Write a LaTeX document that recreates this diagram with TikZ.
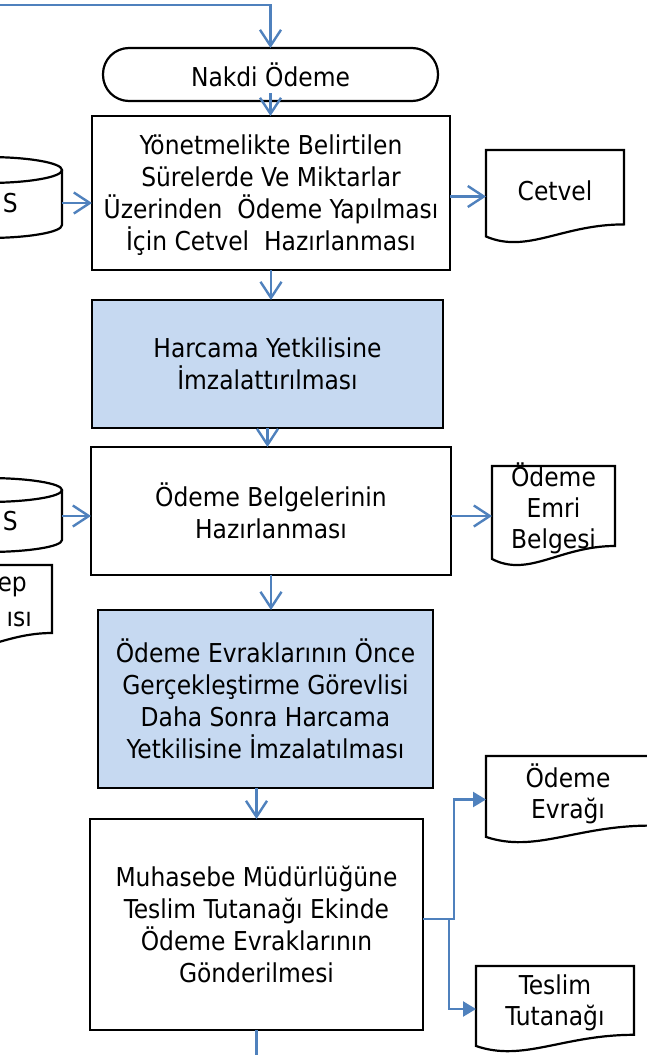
\documentclass[tikz,border=0pt]{standalone}
\usepackage{fontspec}
\setmainfont{DejaVu Sans Condensed}
\usetikzlibrary{arrows.meta,calc}
\definecolor{conn}{HTML}{4F81BD}
\definecolor{procfill}{HTML}{C6D9F1}
\tikzset{
  shapeline/.style={draw=black, line width=2.2pt, line join=miter},
  basebox/.style={shapeline, inner sep=0pt, outer sep=0pt, align=center, font=\fontsize{26}{32}\selectfont},
  proc/.style={basebox, text depth=0pt},
  procblue/.style={proc, fill=procfill},
  term/.style={basebox, rounded corners=26pt},
  docbox/.style={inner sep=0pt, outer sep=0pt},
  doctext/.style={align=center, yshift=6pt, font=\fontsize{26}{31}\selectfont, inner sep=0pt},
  plain/.style={align=center, font=\fontsize{26}{32}\selectfont, inner sep=0pt},
  conline/.style={draw=conn, line width=2.4pt},
  arr/.style={conline, -{Straight Barb[length=16pt, width=21pt, line width=2.4pt]}},
  tri/.style={conline, -{Triangle[length=13pt, width=15pt]}}
}
\newcommand\docpath[1]{%
  \draw[shapeline] let \p1=(#1.north west), \p2=(#1.south east),
    \n1={\x2-\x1}, \n2={\y1-\y2} in
    (\x1,\y1) -- (\x2,\y1) -- (\x2,{\y2+0.2*\n2})
    .. controls ({\x1+0.55*\n1},{\y2+0.2*\n2}) and ({\x1+0.3*\n1},{\y2-0.12*\n2}) ..
    (\x1,{\y2+0.07*\n2}) -- cycle;}
\begin{document}
\begin{tikzpicture}[x=1pt, y=-1pt]
\useasboundingbox (0,0) rectangle (647,1055);
\clip (0,0) rectangle (647,1055);
\fill[white] (0,0) rectangle (647,1055);

% main flow
\node[term, minimum width=335pt, minimum height=53pt] (nakdi) at (270.5,74.5) {Nakdi Ödeme};
\node[proc, minimum width=358pt, minimum height=154pt] (b1) at (271,193)
  {Yönetmelikte Belirtilen\\Sürelerde Ve Miktarlar\\Üzerinden\ \ Ödeme Yapılması\\İçin Cetvel\ \ Hazırlanması};
\node[procblue, minimum width=351pt, minimum height=128pt] (b2) at (267.5,364)
  {Harcama Yetkilisine\\İmzalattırılması};
\node[proc, minimum width=360pt, minimum height=128pt] (b3) at (271,511)
  {Ödeme Belgelerinin\\Hazırlanması};
\node[procblue, minimum width=335pt, minimum height=178pt] (b4) at (265.5,699)
  {Ödeme Evraklarının Önce\\Gerçekleştirme Görevlisi\\Daha Sonra Harcama\\Yetkilisine İmzalatılması};
\node[proc, minimum width=333pt, minimum height=211pt] (b5) at (256.5,924.5)
  {Muhasebe Müdürlüğüne\\Teslim Tutanağı Ekinde\\Ödeme Evraklarının\\Gönderilmesi};

% documents on the right
\node[docbox, minimum width=138pt, minimum height=93pt, label={[doctext]center:Cetvel}] (cetvel) at (555,196.5) {};
\node[docbox, minimum width=123pt, minimum height=100pt, label={[doctext, yshift=1.5pt]center:Ödeme\\Emri\\Belgesi}] (emri) at (553.5,516) {};
\node[docbox, minimum width=164pt, minimum height=87pt, label={[doctext]center:Ödeme\\Evrağı}] (evragi) at (568,799.5) {};
\node[docbox, minimum width=158pt, minimum height=86pt, label={[doctext]center:Teslim\\Tutanağı}] (teslim) at (555,1009) {};
\docpath{cetvel}
\docpath{emri}
\docpath{evragi}
\docpath{teslim}

% cut-off shapes on the left
\draw[shapeline] (-13,170) ellipse [x radius=75pt, y radius=13pt];
\draw[shapeline] (62,170) -- (62,225) arc[start angle=0, end angle=-180, x radius=75pt, y radius=13pt];
\node[plain, anchor=east] (s1) at (18,203) {S};
\draw[shapeline] (-13,490) ellipse [x radius=75pt, y radius=12pt];
\draw[shapeline] (62,490) -- (62,540) arc[start angle=0, end angle=-180, x radius=75pt, y radius=12pt];
\node[plain, anchor=east] (s2) at (18,521) {S};
\node[docbox, minimum width=112pt, minimum height=85pt] (ldoc) at (-4,607.5) {};
\docpath{ldoc}
\node[plain, anchor=east] (ep) at (27,587) {ep};
\node[plain, anchor=east] (isi) at (32,619) {ısı};
\coordinate (db1) at (62,203);
\coordinate (db2) at (62,516);

% connectors
\coordinate (start) at (0,5);
\draw[arr] (start) -| (nakdi.north);
\draw[arr] ($(nakdi.south)+(0,-8)$) -- (nakdi.south |- b1.north);
\draw[arr] (b1.south) -- (b1.south |- b2.north);
\draw[arr] (b2.south) -- (b2.south |- b3.north);
\draw[arr] (b3.south) -- (b3.south |- b4.north);
\draw[arr] (b4.south -| b5.north) -- (b5.north);
\coordinate (end) at (256.5,1055);
\draw[conline] (b5.south) -- (end);

\draw[arr] (b1.east |- cetvel.west) -- (cetvel.west);
\draw[arr] (b3.east |- emri.west) -- (emri.west);
\draw[arr] (db1) -- (db1 -| b1.west);
\draw[arr] (db2) -- (db2 -| b3.west);

\coordinate (jA) at (454,919);
\coordinate (jB) at (449,919);
\draw[tri] (b5.east |- jA) -- (jA) |- (evragi.west);
\draw[tri] (jB) |- (teslim.west);
\end{tikzpicture}
\end{document}
